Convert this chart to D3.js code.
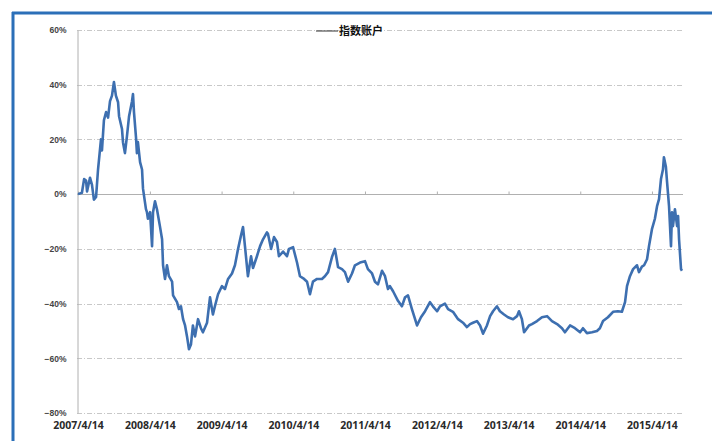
<!DOCTYPE html>
<html><head><meta charset="utf-8">
<script src="https://cdn.jsdelivr.net/npm/d3@7"></script>
<style>body{margin:0;background:#fff;}svg{display:block;}</style>
</head><body>
<svg id="c" width="712" height="441"></svg>
<script>
const seriesName = "指数账户";
const yTicks = [0.6, 0.4, 0.2, 0, -0.2, -0.4, -0.6, -0.8];
const xTickLabels = ["2007/4/14","2008/4/14","2009/4/14","2010/4/14","2011/4/14","2012/4/14","2013/4/14","2014/4/14","2015/4/14"];
const dates = ["2007-04-14","2007-05-04","2007-05-15","2007-05-25","2007-05-30","2007-06-14","2007-06-24","2007-07-04","2007-07-15","2007-07-25",
"2007-08-09","2007-08-14","2007-08-24","2007-09-04","2007-09-14","2007-09-24","2007-10-04","2007-10-14","2007-10-24","2007-11-04",
"2007-11-09","2007-11-24","2007-11-29","2007-12-09","2007-12-19","2007-12-30","2008-01-14","2008-01-19","2008-01-24","2008-02-03",
"2008-02-08","2008-02-13","2008-02-24","2008-03-05","2008-03-10","2008-03-20","2008-03-25","2008-03-30","2008-04-04","2008-04-15",
"2008-04-25","2008-04-30","2008-05-10","2008-05-20","2008-06-04","2008-06-15","2008-06-20","2008-06-30","2008-07-10","2008-07-20",
"2008-08-05","2008-08-10","2008-08-30","2008-09-09","2008-09-19","2008-09-30","2008-10-10","2008-10-20","2008-10-30","2008-11-09",
"2008-11-19","2008-11-30","2008-12-15","2008-12-30","2009-01-09","2009-01-30","2009-02-14","2009-03-01","2009-03-11","2009-03-27",
"2009-04-16","2009-05-01","2009-05-17","2009-06-06","2009-06-21","2009-07-07","2009-07-22","2009-08-01","2009-08-11","2009-08-26",
"2009-09-11","2009-09-21","2009-10-11","2009-10-27","2009-11-11","2009-12-01","2009-12-06","2009-12-22","2010-01-06","2010-01-21",
"2010-01-31","2010-02-21","2010-03-13","2010-03-23","2010-04-13","2010-05-03","2010-05-18","2010-06-08","2010-06-23","2010-07-08",
"2010-07-23","2010-08-13","2010-09-07","2010-09-22","2010-10-08","2010-10-28","2010-11-12","2010-11-28","2010-12-18","2011-01-02",
"2011-01-18","2011-02-07","2011-02-22","2011-03-20","2011-04-14","2011-04-29","2011-05-20","2011-06-04","2011-06-19","2011-07-10",
"2011-07-25","2011-08-09","2011-08-19","2011-09-04","2011-09-29","2011-10-19","2011-11-04","2011-11-19","2011-12-09","2011-12-25",
"2012-01-04","2012-01-24","2012-02-14","2012-03-10","2012-03-25","2012-04-15","2012-04-30","2012-05-25","2012-06-10","2012-07-05",
"2012-07-31","2012-08-25","2012-09-14","2012-09-30","2012-10-15","2012-11-04","2012-11-20","2012-12-05","2012-12-25","2013-01-10",
"2013-01-25","2013-02-14","2013-03-01","2013-03-22","2013-04-11","2013-05-07","2013-05-27","2013-06-06","2013-06-21","2013-07-02",
"2013-07-17","2013-07-27","2013-08-11","2013-09-06","2013-10-01","2013-10-27","2013-11-21","2013-12-17","2014-01-11","2014-01-26",
"2014-02-21","2014-03-18","2014-04-13","2014-04-28","2014-05-18","2014-06-13","2014-07-08","2014-07-23","2014-08-08","2014-09-02",
"2014-09-28","2014-10-23","2014-11-12","2014-11-28","2014-12-08","2014-12-23","2015-01-08","2015-01-28","2015-02-07","2015-02-22",
"2015-03-05","2015-03-20","2015-03-30","2015-04-14","2015-04-29","2015-05-10","2015-05-20","2015-05-30","2015-06-09","2015-06-14",
"2015-06-24","2015-06-30","2015-07-10","2015-07-20","2015-07-25","2015-07-30","2015-08-09","2015-08-20","2015-08-25","2015-08-30",
"2015-09-09","2015-09-14"];
const values = [0,0.5,5.5,5,1,6,3.5,-2,-1,9,
20,16,27,30,28,34,36,41,36,33.6,
28.5,23.8,19,15,21,28.5,34,36.6,30,21,
15,19,11.7,9,2,-3,-5.5,-6.6,-9,-6.6,
-19,-6.6,-2.6,-5.5,-11.7,-16.5,-26,-31,-26,-30,
-32,-37,-39.5,-42,-41,-45.7,-48,-52,-56.7,-55,
-48,-52,-45.7,-49,-50.5,-47,-37.7,-44,-41,-36.6,
-33.6,-34.7,-31,-29,-26,-20,-15,-12,-19,-30,
-22.7,-27,-22.7,-19,-16.5,-14,-14.5,-20,-15.7,-17.5,
-22.7,-21,-22.7,-20,-19.4,-25,-30,-31,-32,-36.6,
-32,-31,-31,-30,-28.5,-23,-20,-26.7,-27.4,-28.5,
-32,-29,-26,-25,-24.5,-27.4,-29,-32,-33,-28,
-30,-34.7,-33.6,-35.5,-39,-41,-37.7,-37,-42,-45.7,
-48,-45,-42.8,-39.5,-41,-42.8,-41,-40,-42,-43,
-45.7,-47,-48.6,-47.5,-47,-46.4,-48,-51,-48,-44.6,
-42.8,-41,-42.8,-44,-45,-45.7,-44.6,-42.8,-45.7,-50.5,
-49,-48,-47.5,-46.4,-45,-44.6,-46.4,-47.5,-49,-50.5,
-48,-49,-50.5,-49,-50.8,-50.5,-50,-49,-46.4,-45,
-43,-42.8,-43,-39.5,-33.6,-30,-27.4,-26,-28.5,-26.5,
-26,-23.8,-19,-12.8,-9,-4.4,-1.8,5.5,9,13.5,
10,4.4,-4.4,-19,-6.6,-11.7,-5.5,-11.7,-8,-16.5,
-27.4,-28];

const parse = d3.timeParse("%Y-%m-%d");
const data = dates.map((d,i)=>({date:parse(d), v:values[i]/100}));
const tickDates = xTickLabels.map(s=>{const p=s.split("/");return new Date(+p[0],+p[1]-1,+p[2]);});

const svg = d3.select("#c");
const L = 77, R = 683, T = 30, B = 413;
const x = d3.scaleTime().domain([data[0].date, data[data.length-1].date]).range([78, 682]);
const y = d3.scaleLinear().domain([-0.8, 0.6]).range([B, T]);

// frame
svg.append("line").attr("x1",12).attr("x2",712).attr("y1",13).attr("y2",13).attr("stroke","#2b6fb8").attr("stroke-width",3);
svg.append("line").attr("x1",13).attr("x2",13).attr("y1",12).attr("y2",441).attr("stroke","#2b6fb8").attr("stroke-width",3);

// gridlines
svg.append("g").selectAll("line").data(yTicks.filter(t=>t!==0)).join("line")
  .attr("x1",L).attr("x2",R).attr("y1",d=>Math.round(y(d))+0.5).attr("y2",d=>Math.round(y(d))+0.5)
  .attr("stroke","#c8c8c8").attr("stroke-width",1).attr("stroke-dasharray","5,2,1,2");

// y axis
const yAxis = d3.axisLeft(y).tickValues(yTicks).tickFormat(d3.format(".0%")).tickSize(0).tickPadding(11);
const gy = svg.append("g").attr("transform",`translate(${L+0.5},0)`).call(yAxis);
gy.select(".domain").attr("stroke","#b0b0b0");
gy.selectAll("text").attr("font-family","'Liberation Sans', Arial, sans-serif").attr("font-size",8.5).attr("font-weight","bold").attr("fill","#444");

// zero axis with ticks
const gx0 = svg.append("g").attr("transform",`translate(0,${Math.round(y(0))+0.5})`)
  .call(d3.axisTop(x).tickValues(tickDates).tickSize(3).tickFormat(""));
gx0.select(".domain").attr("stroke","#b0b0b0").attr("d",`M${L},0H${R}`);
gx0.selectAll(".tick line").attr("stroke","#b0b0b0");

// bottom labels
const gx = svg.append("g").attr("transform",`translate(0,${B})`)
  .call(d3.axisBottom(x).tickValues(tickDates).tickSize(0).tickPadding(9).tickFormat((d,i)=>xTickLabels[i]));
gx.select(".domain").remove();
gx.selectAll("text").attr("font-family","'Open Sans', 'Liberation Sans', sans-serif").attr("font-size",10.5).attr("font-weight","bold").attr("fill","#2a2a2a");

// line
const line = d3.line().x(d=>x(d.date)).y(d=>y(d.v));
svg.append("path").datum(data).attr("d",line).attr("fill","none").attr("stroke","#3d6fb0").attr("stroke-width",2.6).attr("stroke-linejoin","round");

// legend
svg.append("line").attr("x1",316).attr("x2",338).attr("y1",31).attr("y2",31).attr("stroke","#333").attr("stroke-width",1);
svg.append("text").attr("x",339).attr("y",35).text(seriesName)
  .attr("font-family","'Noto Sans CJK SC', sans-serif").attr("font-size",11).attr("font-weight","bold").attr("fill","#111");
</script>
</body></html>
